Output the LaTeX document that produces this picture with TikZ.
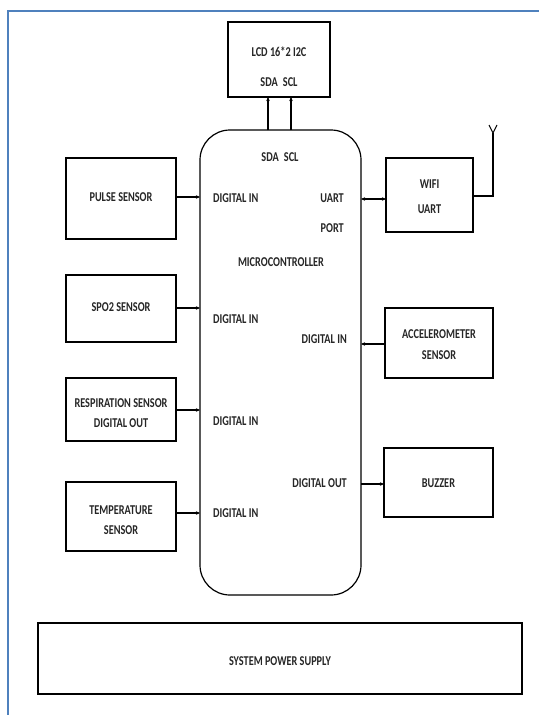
\documentclass[tikz,border=0pt]{standalone}
\usepackage{fontspec}
\setmainfont{Carlito}
\usetikzlibrary{arrows.meta}
\definecolor{frameblue}{HTML}{4F81BD}
\newcommand{\cz}[1]{\scalebox{0.76}[1]{#1}}
\begin{document}
\begin{tikzpicture}[x=1pt,y=-1pt,
  box/.style={draw=black,line width=1.8pt,inner sep=0pt},
  lbl/.style={font=\bfseries\fontsize{13.5}{16}\selectfont,inner sep=0pt,align=center,text=black!85},
  conn/.style={line width=1.2pt,-{Stealth[length=4pt,width=3.5pt]}},
  bconn/.style={line width=1.2pt,{Stealth[length=4pt,width=3.5pt]}-{Stealth[length=4pt,width=3.5pt]}}]
\useasboundingbox (0,0) rectangle (539,715);
\fill[white] (0,0) rectangle (539,715);
% frame
\draw[frameblue,line width=2pt] (8,715) -- (8,10.5) -- (539,10.5);
% boxes
\draw[box] (228,22) rectangle (330,97);
\node[lbl] (lcd) at (279,52) {\cz{LCD 16*2 I2C}};
\node[lbl] (lcdpins) at (279,82) {\cz{SDA\enspace SCL}};
\coordinate (lcdsda) at (268,97);
\coordinate (lcdscl) at (291,97);

\draw[line width=1.2pt,rounded corners=30pt] (200,130) rectangle (361,595);
\coordinate (mcusda) at (268,130);
\coordinate (mcuscl) at (291,130);
\node[lbl] (mpins) at (280,157) {\cz{SDA\enspace SCL}};
\node[lbl] (mcu) at (281,262) {\cz{MICROCONTROLLER}};
\node[lbl,anchor=east] (uart) at (344,198) {\cz{UART}};
\node[lbl,anchor=east] (port) at (344,228) {\cz{PORT}};
\node[lbl,anchor=west] (din1) at (213,198) {\cz{DIGITAL IN}};
\node[lbl,anchor=west] (din2) at (213,319) {\cz{DIGITAL IN}};
\node[lbl,anchor=west] (din3) at (213,421) {\cz{DIGITAL IN}};
\node[lbl,anchor=west] (din4) at (213,513) {\cz{DIGITAL IN}};
\node[lbl,anchor=east] (din5) at (347,339) {\cz{DIGITAL IN}};
\node[lbl,anchor=east] (dout) at (347,483) {\cz{DIGITAL OUT}};

% left sensors
\draw[box] (66,158) rectangle (176,239);
\node[lbl] (pulse) at (121,197) {\cz{PULSE SENSOR}};
\draw[box] (66,275) rectangle (176,342);
\node[lbl] (spo2) at (121,307) {\cz{SPO2 SENSOR}};
\draw[box] (66,378) rectangle (176,441);
\node[lbl] (resp) at (121,413) {\cz{RESPIRATION SENSOR}\\[4pt]\cz{DIGITAL OUT}};
\draw[box] (66,482) rectangle (176,551);
\node[lbl] (temp) at (121,520) {\cz{TEMPERATURE}\\[4pt]\cz{SENSOR}};

% right modules
\draw[box] (386,158) rectangle (473,232);
\node[lbl] (wifi) at (429.5,197) {\cz{WIFI}\\[9pt]\cz{UART}};
\draw[box] (385,308) rectangle (493,378);
\node[lbl] (acc) at (439,345) {\cz{ACCELEROMETER}\\[5pt]\cz{SENSOR}};
\draw[box] (384,448) rectangle (493,517);
\node[lbl] (buz) at (438.5,483) {\cz{BUZZER}};

\draw[box] (38,623) rectangle (522,694);
\node[lbl] (psu) at (280,661) {\cz{SYSTEM POWER SUPPLY}};

% connectors
\coordinate (p1a) at (176,197); \coordinate (p1b) at (200,197);
\coordinate (p2a) at (176,308); \coordinate (p2b) at (200,308);
\coordinate (p3a) at (176,410); \coordinate (p3b) at (200,410);
\coordinate (p4a) at (176,513); \coordinate (p4b) at (200,513);
\draw[conn] (p1a) -- (p1b);
\draw[conn] (p2a) -- (p2b);
\draw[conn] (p3a) -- (p3b);
\draw[conn] (p4a) -- (p4b);
\draw[conn] (mcusda) -- (lcdsda);
\draw[conn] (mcuscl) -- (lcdscl);
\coordinate (w1) at (361,199); \coordinate (w2) at (386,199);
\draw[bconn] (w1) -- (w2);
\coordinate (a1) at (385,344); \coordinate (a2) at (361,344);
\draw[conn] (a1) -- (a2);
\coordinate (b1) at (361,484); \coordinate (b2) at (384,484);
\draw[conn] (b1) -- (b2);
% antenna
\coordinate (ant0) at (473,196);
\coordinate (ant1) at (493,196);
\coordinate (ant2) at (493,133);
\draw[line width=1.8pt] (ant0) -- (ant1) -- (ant2);
\draw[line width=1pt] (ant2) -- ++(-4,-8) (ant2) -- ++(4,-8);
\end{tikzpicture}
\end{document}
